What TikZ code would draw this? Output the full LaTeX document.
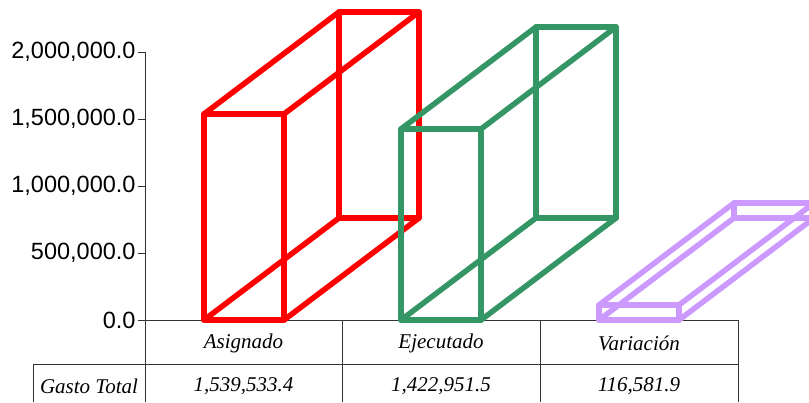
\documentclass[tikz,border=0pt]{standalone}
\usepackage{fontspec}
\setmainfont{Liberation Serif}
\newfontfamily\axisfont{Liberation Sans}
\usetikzlibrary{positioning}
\definecolor{boxgreen}{RGB}{52,150,100}
\definecolor{boxpurple}{RGB}{204,153,255}

\begin{document}
\begin{tikzpicture}[x=1pt,y=-1pt,
  boxline/.style={line width=5.5pt, line join=round, line cap=round},
  ticklabel/.style={font=\axisfont\fontsize{23.5}{23.5}\selectfont, text=black, left, inner sep=2pt},
  cell/.style={font=\itshape\fontsize{21}{21}\selectfont, inner sep=0pt}]
\useasboundingbox (0,0) rectangle (809,402);
\clip (0,0) rectangle (809,402);
% axis
\draw[line width=1pt, black!80] (145,52) -- (145,320) -- (738,320);
\foreach \y/\t in {320/0.0, 253/{500,000.0}, 186/{1,000,000.0}, 119/{1,500,000.0}, 52/{2,000,000.0}}
  \draw[line width=1pt, black!80] (138,\y) -- (145,\y) node[ticklabel] (t\y) at (138,\y) {\t};
% boxes
\foreach \x/\h/\c in {204/114/red, 401/129/boxgreen, 599/305/boxpurple}{
  \draw[boxline, \c] (\x+135,218) rectangle (\x+215,\h-102);
  \draw[boxline, \c] (\x,\h) -- (\x+135,\h-102) (\x+80,\h) -- (\x+215,\h-102)
    (\x+80,320) -- (\x+215,218) (\x,320) -- (\x+135,218);
  \draw[boxline, \c] (\x,320) rectangle (\x+80,\h);
}
% table
\draw[line width=1pt, black!80] (33,364) -- (738,364);
\draw[line width=1pt, black!80] (33,364) -- (33,402);
\foreach \x in {145,342,540,738}
  \draw[line width=1pt, black!80] (\x,320) -- (\x,402);
\node[cell] (asig) at (243.5,343) {Asignado};
\node[cell] (ejec) at (441,343) {Ejecutado};
\node[cell] (vari) at (639,343) {Variación};
\node[cell] (gasto) at (89,386) {Gasto Total};
\node[cell] (vasig) at (243.5,386) {1,539,533.4};
\node[cell] (vejec) at (441,386) {1,422,951.5};
\node[cell] (vvari) at (639,386) {116,581.9};
\end{tikzpicture}
\end{document}
